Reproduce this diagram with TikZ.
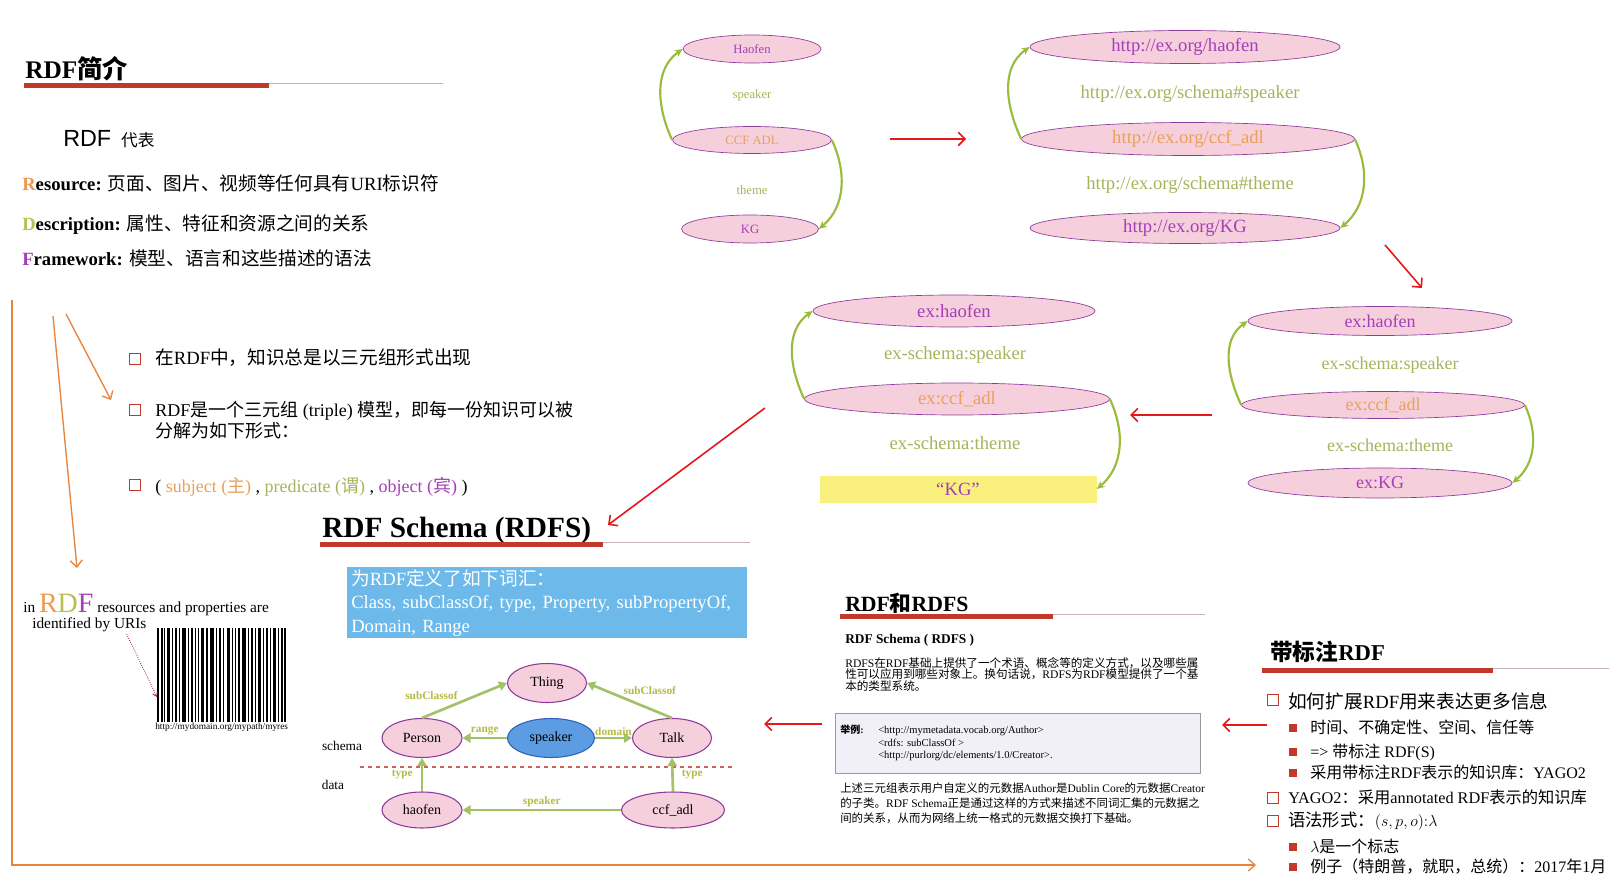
\documentclass[tikz,border=0pt]{standalone}
\usepackage{fontspec}
\usepackage{xcolor}
\usepackage{tikz}
\usetikzlibrary{arrows.meta,shapes.geometric,positioning}
\setmainfont{Liberation Serif}
\setsansfont{Liberation Sans}
\newfontfamily\cjk{Noto Sans CJK SC}
\newcommand{\zh}[1]{{\cjk #1}}
\newcommand{\fsz}[1]{\fontsize{#1}{#1}\selectfont}
\definecolor{barRed}{HTML}{C0392B}
\definecolor{lineGray}{HTML}{C8B4B4}
\definecolor{arrowRed}{HTML}{E3191C}
\definecolor{arrowOrange}{HTML}{E8833A}
\definecolor{curveGreen}{HTML}{9BBB3B}
\definecolor{edgeGreen}{HTML}{A4C16A}
\definecolor{pinkFill}{HTML}{F6CFDC}
\definecolor{purpleLine}{HTML}{8E3A9D}
\definecolor{purpleText}{HTML}{A43FB8}
\definecolor{orangeText}{HTML}{E9A15A}
\definecolor{oliveText}{HTML}{A9B35C}
\definecolor{initOrange}{HTML}{EE9A4D}
\definecolor{initOlive}{HTML}{B9C050}
\definecolor{labelOlive}{HTML}{B3BC45}
\definecolor{skyBox}{HTML}{6DB9EA}
\definecolor{blueNode}{HTML}{5B9CE2}
\definecolor{blueLine}{HTML}{2E63B5}
\definecolor{yellowBox}{HTML}{F9F07E}
\definecolor{lavenderBox}{HTML}{F1EFF8}
\definecolor{boxGray}{HTML}{9A9A9A}
\definecolor{dotRed}{HTML}{9B2335}

\begin{document}
\begin{tikzpicture}[x=0.75pt,y=-0.75pt]

    \tikzset{
        sz/.style 2 args={minimum width=#1*0.75pt, minimum height=#2*0.75pt},
        res/.style={ellipse, draw=purpleLine, fill=pinkFill, line width=0.5pt, inner sep=0pt, text=purpleText},
        lit/.style={res, text=orangeText},
        prop/.style={inner sep=1pt, text=oliveText},
        curvearr/.style={curveGreen, line width=1.6pt, -{Stealth[length=6pt,width=5.5pt]}},
        redarr/.style={arrowRed, line width=1.2pt, -{Straight Barb[length=5pt,width=10pt]}},
        orarr/.style={arrowOrange, line width=1pt, -{Straight Barb[length=5pt,width=9pt]}},
        cls/.style={ellipse, draw=purpleLine, fill=pinkFill, line width=0.8pt, inner sep=0pt, font=\fsz{10.5}},
        rdfsedge/.style={edgeGreen, line width=2pt, -{Triangle[length=6pt,width=7pt]}},
        elab/.style={font=\bfseries\fsz{8.5}, text=labelOlive, inner sep=1pt},
        opensq/.style={draw=barRed, line width=1.2pt, minimum size=8pt, inner sep=0pt},
        fullsq/.style={fill=barRed, minimum size=6.5pt, inner sep=0pt},
        txt/.style={anchor=base west, inner sep=0pt}
    }

    \newcommand{\TitleBar}[4]{%
        \fill[barRed] (#1,#2) rectangle (#3,#2+5);
        \draw[lineGray, line width=0.5pt] (#3,#2) -- (#4,#2);
    }

    \fill[white] (0,0) rectangle (1609,887);
    \useasboundingbox (0,0) rectangle (1609,887);

    % RDF intro
    \node[txt, font=\bfseries\fsz{19}] (introTitle) at (25,79) {RDF\zh{简介}};
    \TitleBar{24}{83}{269}{443}
    \node[txt, font=\sffamily\fsz{17.5}] (rdfWord) at (63,147) {RDF};
    \node[base right=7pt of rdfWord, inner sep=0pt, font=\fsz{12.5}] (daibiao) {\zh{代表}};
    \node[txt, font=\fsz{14}] (resLine) at (22,191) {\textbf{\textcolor{initOrange}{R}esource:} \zh{页面、图片、视频等任何具有}URI\zh{标识符}};
    \node[txt, font=\fsz{14}] (descLine) at (22,231) {\textbf{\textcolor{initOlive}{D}escription:} \zh{属性、特征和资源之间的关系}};
    \node[txt, font=\fsz{14}] (frameLine) at (22,266) {\textbf{\textcolor{purpleText}{F}ramework:} \zh{模型、语言和这些描述的语法}};

    % plain names
    \node[res, sz={138}{28}, font=\fsz{9.5}] (haofenA) at (752,49) {Haofen};
    \node[prop, font=\fsz{9.5}] (speakerA) at (752,95) {speaker};
    \node[lit, sz={159}{27}, font=\fsz{9.5}] (ccfA) at (752,140) {CCF ADL};
    \node[prop, font=\fsz{9.5}] (themeA) at (752,190) {theme};
    \node[res, sz={137}{28}, font=\fsz{9.5}] (kgA) at (750,229) {KG};
    \draw[curvearr] (ccfA.west) to[out=115, in=215] (haofenA.west);
    \draw[curvearr] (ccfA.east) to[out=-65, in=40] (kgA.east);

    % full URIs
    \node[res, sz={310}{33}, font=\fsz{14}] (haofenB) at (1185,47) {http://ex.org/haofen};
    \node[prop, font=\fsz{14}] (speakerB) at (1190,94) {http://ex.org/schema\#speaker};
    \node[lit, sz={333}{33}, font=\fsz{14}] (ccfB) at (1188,139) {http://ex.org/ccf\_adl};
    \node[prop, font=\fsz{14}] (themeB) at (1190,185) {http://ex.org/schema\#theme};
    \node[res, sz={310}{31}, font=\fsz{14}] (kgB) at (1185,228) {http://ex.org/KG};
    \draw[curvearr] (ccfB.west) to[out=115, in=215] (haofenB.west);
    \draw[curvearr] (ccfB.east) to[out=-65, in=40] (kgB.east);

    % prefixed names
    \node[res, sz={264}{29}, font=\fsz{13.5}] (haofenD) at (1380,321) {ex:haofen};
    \node[prop, font=\fsz{13.5}] (speakerD) at (1390,365) {ex-schema:speaker};
    \node[lit, sz={283}{27}, font=\fsz{13.5}] (ccfD) at (1383,405) {ex:ccf\_adl};
    \node[prop, font=\fsz{13.5}] (themeD) at (1390,445) {ex-schema:theme};
    \node[res, sz={264}{30}, font=\fsz{13.5}] (kgD) at (1380,483) {ex:KG};
    \draw[curvearr] (ccfD.west) to[out=115, in=215] (haofenD.west);
    \draw[curvearr] (ccfD.east) to[out=-65, in=40] (kgD.east);

    % literal object
    \node[res, sz={282}{32}, font=\fsz{14}] (haofenC) at (954,311) {ex:haofen};
    \node[prop, font=\fsz{14}] (speakerC) at (955,355) {ex-schema:speaker};
    \node[lit, sz={305}{32}, font=\fsz{14}] (ccfC) at (957,399) {ex:ccf\_adl};
    \node[prop, font=\fsz{14}] (themeC) at (955,443) {ex-schema:theme};
    \node[fill=yellowBox, sz={277}{27}, inner sep=0pt, text=purpleText, font=\fsz{14}] (kgC) at (958,489) {“KG”};
    \draw[curvearr] (ccfC.west) to[out=115, in=215] (haofenC.west);
    \draw[curvearr] (ccfC.east) to[out=-65, in=40] (kgC.east);

    % red arrows between the steps
    \coordinate (r1a) at (890,139);  \coordinate (r1b) at (966,139);
    \coordinate (r2a) at (1385,245); \coordinate (r2b) at (1422,288);
    \coordinate (r3a) at (1212,415); \coordinate (r3b) at (1130,415);
    \coordinate (r4a) at (765,408);  \coordinate (r4b) at (608,525);
    \coordinate (r5a) at (822,724);  \coordinate (r5b) at (764,724);
    \coordinate (r6a) at (1267,725); \coordinate (r6b) at (1222,725);
    \draw[redarr] (r1a) -- (r1b);
    \draw[redarr] (r2a) -- (r2b);
    \draw[redarr] (r3a) -- (r3b);
    \draw[redarr] (r4a) -- (r4b);
    \draw[redarr] (r5a) -- (r5b);
    \draw[redarr] (r6a) -- (r6b);

    % orange arrows
    \coordinate (oTop) at (12,300); \coordinate (oCorner) at (12,865); \coordinate (oEnd) at (1256,865);
    \coordinate (o1a) at (53,316);  \coordinate (o1b) at (77,568);
    \coordinate (o2a) at (66,314);  \coordinate (o2b) at (111,400);
    \draw[orarr] (oTop) -- (oCorner) -- (oEnd);
    \draw[orarr] (o1a) -- (o1b);
    \draw[orarr] (o2a) -- (o2b);

    % triple list
    \node[opensq] (sq1) at (135,359) {};
    \node[txt, font=\fsz{14}] (item1) at (155,365) {\zh{在}RDF\zh{中，知识总是以三元组形式出现}};
    \node[opensq] (sq2) at (135,410) {};
    \node[anchor=north west, inner sep=0pt, align=left, font=\fontsize{13.5}{15.75}\selectfont] (item2) at (155,401) {RDF\zh{是一个三元组} (triple) \zh{模型，即每一份知识可以被}\\\zh{分解为如下形式：}};
    \node[opensq] (sq3) at (135,485) {};
    \node[txt, font=\fsz{13.5}] (item3) at (155,493) {( \textcolor{orangeText}{subject (\zh{主})} , \textcolor{oliveText}{predicate (\zh{谓})} , \textcolor{purpleText}{object (\zh{宾})} )};

    % URIs and barcode
    \node[txt, font=\fsz{11.5}] (inText) at (23,612) {in {\fsz{21}\textcolor{initOrange}{R}\textcolor{initOlive}{D}\textcolor{purpleText}{F}} resources and properties are};
    \node[txt, font=\fsz{11.5}] (uriText) at (32,628) {identified by URIs};
    \foreach \bx/\bw in {0/2,4/1.5,7/1,10/3,15/1,18/2,22/1,25/4,31/1,34/2,38/1,41/1,44/3,49/1.5,53/4,59/1,62/2,66/1,70/3,75/1,78/1,81/2,85/4,91/1,94/2,98/1,101/3,106/1,109/2,113/1,116/3,121/1,124/2,127/1.5}
        \fill[black] (157+\bx,628) rectangle (157+\bx+\bw,722);
    \node[anchor=north west, inner sep=0pt, font=\fsz{7}] (urlText) at (155,723) {http://mydomain.org/mypath/myres};
    \coordinate (barTip) at (157,697);
    \draw[dotRed, densely dotted, line width=0.6pt, -{Straight Barb[length=3pt,width=4pt]}] ([xshift=-15pt,yshift=-2pt]uriText.south east) -- (barTip);

    % RDF Schema
    \node[txt, font=\bfseries\fsz{22}] (rdfsTitle) at (322,537) {RDF Schema (RDFS)};
    \TitleBar{320}{542}{603}{750}
    \node[anchor=north west, fill=skyBox, sz={400}{71}, text width=392*0.75pt, inner xsep=1.5pt, inner ysep=0pt, align=left, text=white, font=\fontsize{14}{17.6}\selectfont] (vocabBox) at (347,567) {\zh{为}RDF\zh{定义了如下词汇：}\\Class, subClassOf, type, Property, subPropertyOf,\\Domain, Range};

    \node[cls, sz={79}{39}] (thing) at (547,683) {Thing};
    \node[cls, sz={80}{39}] (person) at (422,738) {Person};
    \node[cls, sz={87}{39}, fill=blueNode, draw=blueLine] (speakerE) at (551,738) {speaker};
    \node[cls, sz={79}{39}] (talk) at (672,738) {Talk};
    \node[cls, sz={80}{36}] (haofenE) at (422,810) {haofen};
    \node[cls, sz={103}{36}] (ccfE) at (673,810) {ccf\_adl};
    \coordinate (sepL) at (360,767); \coordinate (sepR) at (733,767);
    \draw[barRed!80, dashed, line width=1pt] (sepL) -- (sepR);
    \node[font=\fsz{10}, inner sep=0pt] (schemaLbl) at (342,746) {schema};
    \node[font=\fsz{10}, inner sep=0pt] (dataLbl) at (333,785) {data};
    \draw[rdfsedge] (person.north) -- node[elab, above left, pos=0.45] {subClassof} (thing.west);
    \draw[rdfsedge] (talk.north) -- node[elab, above right, pos=0.6] {subClassof} (thing.east);
    \draw[rdfsedge] (speakerE.west) -- node[elab, above] {range} (person.east);
    \draw[rdfsedge] (speakerE.east) -- node[elab, above] {domain} (talk.west);
    \draw[rdfsedge] (haofenE.north) -- node[elab, left=5pt] {type} (person.south);
    \draw[rdfsedge] (ccfE.north) -- node[elab, right=5pt] {type} (talk.south);
    \draw[rdfsedge] (ccfE.west) -- node[elab, above] {speaker} (haofenE.east);

    % RDF and RDFS
    \node[txt, font=\bfseries\fsz{16.3}] (cmpTitle) at (845,611) {RDF\zh{和}RDFS};
    \TitleBar{840}{614}{1053}{1205}
    \node[txt, font=\bfseries\fsz{10}] (rdfsSub) at (845,643) {RDF Schema ( RDFS )};
    \node[anchor=north west, inner sep=0pt, align=left, font=\fontsize{8.7}{8.8}\selectfont] (rdfsPara) at (845,657) {RDFS\zh{在}RDF\zh{基础上提供了一个术语、概念等的定义方式，以及哪些属}\\\zh{性可以应用到哪些对象上。换句话说，}RDFS\zh{为}RDF\zh{模型提供了一个基}\\\zh{本的类型系统。}};
    \node[anchor=north west, draw=boxGray, fill=lavenderBox, line width=0.6pt, sz={365}{60}] (exBox) at (835,713) {};
    \node[txt, font=\bfseries\fsz{7.5}] (exLabel) at (840,733) {\zh{举例}:};
    \node[anchor=north west, inner sep=0pt, align=left, font=\fontsize{7.9}{9.4}\selectfont] (exCode) at (878,726) {<http://mymetadata.vocab.org/Author>\\<rdfs: subClassOf >\\<http://purlorg/dc/elements/1.0/Creator>.};
    \node[anchor=north west, inner sep=0pt, align=left, font=\fontsize{8.6}{10.9}\selectfont] (cmpPara) at (840,783) {\zh{上述三元组表示用户自定义的元数据}Author\zh{是}Dublin Core\zh{的元数据}Creator\\\zh{的子类。}RDF Schema\zh{正是通过这样的方式来描述不同词汇集的元数据之}\\\zh{间的关系，从而为网络上统一格式的元数据交换打下基础。}};

    % annotated RDF
    \node[txt, font=\bfseries\fsz{17}] (annTitle) at (1270,660) {\zh{带标注}RDF};
    \TitleBar{1262}{668}{1493}{1609}
    \node[opensq] (aq1) at (1273,700) {};
    \node[txt, font=\fsz{14}] (ann1) at (1288,708) {\zh{如何扩展}RDF\zh{用来表达更多信息}};
    \node[fullsq] (ab1) at (1293,728) {};
    \node[txt, font=\fsz{12}] (ann2) at (1310,733) {\zh{时间、不确定性、空间、信任等}};
    \node[fullsq] (ab2) at (1293,752) {};
    \node[txt, font=\fsz{12}] (ann3) at (1310,757) {=> \zh{带标注} RDF(S)};
    \node[fullsq] (ab3) at (1293,773) {};
    \node[txt, font=\fsz{12}] (ann4) at (1310,778) {\zh{采用带标注}RDF\zh{表示的知识库：}YAGO2};
    \node[opensq] (aq2) at (1273,798) {};
    \node[txt, font=\fsz{12.2}] (ann5) at (1288,803) {YAGO2\zh{：采用}annotated RDF\zh{表示的知识库}};
    \node[opensq] (aq3) at (1273,821) {};
    \node[txt, font=\fsz{13}] (ann6) at (1288,826) {\zh{语法形式：}$(s,p,o){:}\lambda$};
    \node[fullsq] (ab4) at (1293,847) {};
    \node[txt, font=\fsz{12}] (ann7) at (1310,852) {$\lambda$\zh{是一个标志}};
    \node[fullsq] (ab5) at (1293,867) {};
    \node[txt, font=\fsz{12}] (ann8) at (1310,872) {\zh{例子（特朗普，就职，总统）：}2017\zh{年}1\zh{月}};

\end{tikzpicture}
\end{document}
